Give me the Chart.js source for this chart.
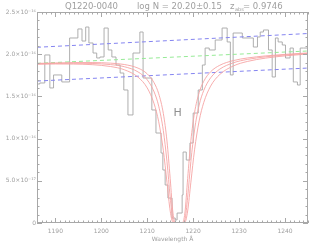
<!DOCTYPE html>
<html>
<head>
<meta charset="utf-8">
<script src="https://cdn.jsdelivr.net/npm/chart.js@4.4.1/dist/chart.umd.min.js"></script>
<style>
  html, body { margin: 0; padding: 0; background: #fff; }
  canvas { display: block; }
</style>
</head>
<body>
<canvas id="chart" width="319" height="250"></canvas>
<script>
// --- datos (flujo en unidades de 1e-16) ---
const histWave = [1186.0, 1186.6, 1187.7, 1188.8, 1189.6, 1191.4, 1193.1, 1194.9, 1195.8, 1196.6,
  1197.3, 1198.2, 1199.0, 1199.7, 1200.6, 1201.5, 1202.3, 1203.2, 1204.1, 1204.9,
  1205.8, 1206.9, 1208.4, 1209.1, 1211.0, 1211.9, 1213.0, 1213.4, 1213.9, 1214.5,
  1215.4, 1216.1, 1216.5, 1217.6, 1217.8, 1218.5, 1219.3, 1220.0, 1221.1, 1222.0,
  1222.6, 1223.5, 1224.8, 1226.3, 1227.4, 1228.1, 1228.7, 1230.7, 1233.1, 1234.0,
  1234.6, 1235.3, 1236.4, 1237.2, 1237.9, 1238.5, 1239.4, 1240.1, 1241.1, 1241.8,
  1242.7, 1243.3, 1244.0, 1245.0];
const histFlux = [1.611, 1.647, 1.659, 1.991, 1.600, 1.754, 1.671, 2.192, 2.299, 2.156,
  2.322, 2.133, 2.014, 1.955, 1.967, 2.310, 2.050, 1.967, 1.872, 1.777,
  1.576, 1.280, 2.014, 2.263, 1.718, 1.339, 1.066, 0.829, 0.628, 0.450,
  0.296, 0.059, 0.036, 0.118, 0.332, 0.841, 0.746, 0.948, 1.303, 1.576,
  1.872, 2.073, 2.050, 2.168, 2.310, 2.145, 1.754, 2.251, 2.192, 2.085,
  2.204, 2.263, 2.287, 2.050, 1.730, 2.192, 2.145, 2.109, 1.955, 2.073,
  1.671, 1.635, 2.073, 2.073];

// perfiles de Voigt: log N = 20.05, 20.20, 20.35
const modelWave = [1186, 1190, 1194, 1198, 1202, 1205, 1208, 1210, 1211.5, 1212.5,
  1213.5, 1214.3, 1215, 1215.6, 1216.2, 1216.9, 1217.6, 1218.2, 1218.8, 1219.5,
  1220.3, 1221.3, 1222.3, 1223.8, 1225.8, 1228.8, 1231.8, 1235.8, 1240, 1245];
const modelLow = [1.891, 1.896, 1.900, 1.901, 1.894, 1.878, 1.835, 1.767, 1.661, 1.531,
  1.299, 0.970, 0.525, 0.118, 0, 0, 0, 0.118, 0.527, 0.975,
  1.307, 1.544, 1.679, 1.792, 1.869, 1.925, 1.955, 1.980, 1.998, 2.015];
const modelMid = [1.887, 1.891, 1.893, 1.890, 1.877, 1.852, 1.790, 1.696, 1.553, 1.384,
  1.096, 0.726, 0.305, 0.037, 0, 0, 0, 0.037, 0.306, 0.729,
  1.103, 1.396, 1.570, 1.720, 1.823, 1.899, 1.938, 1.969, 1.991, 2.010];
const modelHigh = [1.881, 1.884, 1.883, 1.876, 1.854, 1.816, 1.728, 1.600, 1.412, 1.199,
  0.862, 0.481, 0.141, 0.007, 0, 0, 0, 0.007, 0.142, 0.483,
  0.867, 1.209, 1.427, 1.622, 1.760, 1.862, 1.914, 1.954, 1.980, 2.003];

// continuo y su error
const contWave = [1186, 1245];
const contFlux = [1.892, 2.038];
const contUpper = [2.082, 2.245];
const contLower = [1.682, 1.836];

const xTicks = [1190, 1200, 1210, 1220, 1230, 1240];
const yTicks = [0, 0.5, 1.0, 1.5, 2.0, 2.5];
const yTickLabels = ['0', '5.0×10⁻¹⁷', '1.0×10⁻¹⁶', '1.5×10⁻¹⁶', '2.0×10⁻¹⁶', '2.5×10⁻¹⁶'];
const xMinorStep = 1;
const yMinorStep = 0.1;
const lineLabel = { text: 'H', wave: 1216.6, flux: 1.30 };

const axisColor = '#a8a8a8';
const textColor = '#a0a0a0';
const tickFont = { family: 'DejaVu Sans', size: 6 };

const toPoints = (xs, ys) => xs.map((x, i) => ({ x, y: ys[i] }));

// --- caja estilo IDL con marcas hacia adentro ---
const boxAxes = {
    id: 'boxAxes',
    afterDraw(chart) {
        const { ctx, chartArea: a, scales: { x, y } } = chart;
        ctx.save();
        ctx.strokeStyle = axisColor;
        ctx.lineWidth = 1;
        ctx.strokeRect(a.left + 0.5, a.top + 0.5, a.right - a.left - 1, a.bottom - a.top - 1);
        ctx.beginPath();
        const nx = Math.round((x.max - x.min) / xMinorStep);
        for (let i = 0; i <= nx; i++) {
            const v = x.min + i * xMinorStep;
            const px = Math.round(x.getPixelForValue(v)) + 0.5;
            const len = xTicks.includes(v) ? 5 : 2.5;
            ctx.moveTo(px, a.bottom); ctx.lineTo(px, a.bottom - len);
            ctx.moveTo(px, a.top); ctx.lineTo(px, a.top + len);
        }
        const ny = Math.round((y.max - y.min) / yMinorStep);
        for (let i = 0; i <= ny; i++) {
            const v = y.min + i * yMinorStep;
            const py = Math.round(y.getPixelForValue(v)) + 0.5;
            const len = i % 5 === 0 ? 5 : 2.5;
            ctx.moveTo(a.left, py); ctx.lineTo(a.left + len, py);
            ctx.moveTo(a.right, py); ctx.lineTo(a.right - len, py);
        }
        ctx.stroke();

        // etiqueta de la línea
        ctx.fillStyle = '#909090';
        ctx.font = '11px "DejaVu Sans"';
        ctx.textAlign = 'center';
        ctx.textBaseline = 'middle';
        ctx.fillText(lineLabel.text, x.getPixelForValue(lineLabel.wave), y.getPixelForValue(lineLabel.flux));

        // encabezado
        ctx.fillStyle = textColor;
        ctx.font = '8.5px "DejaVu Sans"';
        ctx.textAlign = 'left';
        ctx.textBaseline = 'alphabetic';
        ctx.fillText('Q1220-0040', 65, 9);
        ctx.fillText('log N = 20.20±0.15', 137, 9);
        ctx.fillText('z', 230, 9);
        ctx.font = '5px "DejaVu Sans"';
        ctx.fillText('abs', 235, 11);
        ctx.font = '8.5px "DejaVu Sans"';
        ctx.fillText('= 0.9746', 243, 9);
        ctx.restore();
    }
};

const ctx = document.getElementById('chart').getContext('2d');
new Chart(ctx, {
    type: 'line',
    data: {
        datasets: [
            { data: toPoints(modelWave, modelLow), borderColor: '#f6a4a4', borderWidth: 0.9, pointRadius: 0, cubicInterpolationMode: 'monotone' },
            { data: toPoints(modelWave, modelMid), borderColor: '#f6a4a4', borderWidth: 0.9, pointRadius: 0, cubicInterpolationMode: 'monotone' },
            { data: toPoints(modelWave, modelHigh), borderColor: '#f6a4a4', borderWidth: 0.9, pointRadius: 0, cubicInterpolationMode: 'monotone' },
            { data: toPoints(contWave, contFlux), borderColor: '#96ea96', borderWidth: 1, borderDash: [4, 3], pointRadius: 0 },
            { data: toPoints(contWave, contUpper), borderColor: '#8484f0', borderWidth: 1, borderDash: [4, 3], pointRadius: 0 },
            { data: toPoints(contWave, contLower), borderColor: '#8484f0', borderWidth: 1, borderDash: [4, 3], pointRadius: 0 },
            { data: toPoints(histWave, histFlux), borderColor: '#a6a6a6', borderWidth: 0.9, pointRadius: 0, stepped: 'after' }
        ]
    },
    options: {
        responsive: false,
        animation: false,
        layout: { padding: { top: 12, right: 11, left: 0, bottom: 0 } },
        plugins: { legend: { display: false }, tooltip: { enabled: false } },
        scales: {
            x: {
                type: 'linear', min: 1186, max: 1245,
                grid: { display: false, drawTicks: false },
                border: { display: false },
                afterBuildTicks: s => { s.ticks = xTicks.map(v => ({ value: v })); },
                afterFit: s => { s.height = 27; },
                ticks: { color: textColor, font: tickFont, padding: 5, maxRotation: 0, autoSkip: false, callback: v => String(v) },
                title: { display: true, text: 'Wavelength Å', color: textColor, font: tickFont, padding: { top: 0, bottom: 7 } }
            },
            y: {
                type: 'linear', min: 0, max: 2.5,
                grid: { display: false, drawTicks: false },
                border: { display: false },
                afterBuildTicks: s => { s.ticks = yTicks.map(v => ({ value: v })); },
                afterFit: s => { s.width = 37; },
                ticks: { color: textColor, font: tickFont, padding: 1, autoSkip: false, callback: (v, i) => yTickLabels[i] }
            }
        }
    },
    plugins: [boxAxes]
});
</script>
</body>
</html>
